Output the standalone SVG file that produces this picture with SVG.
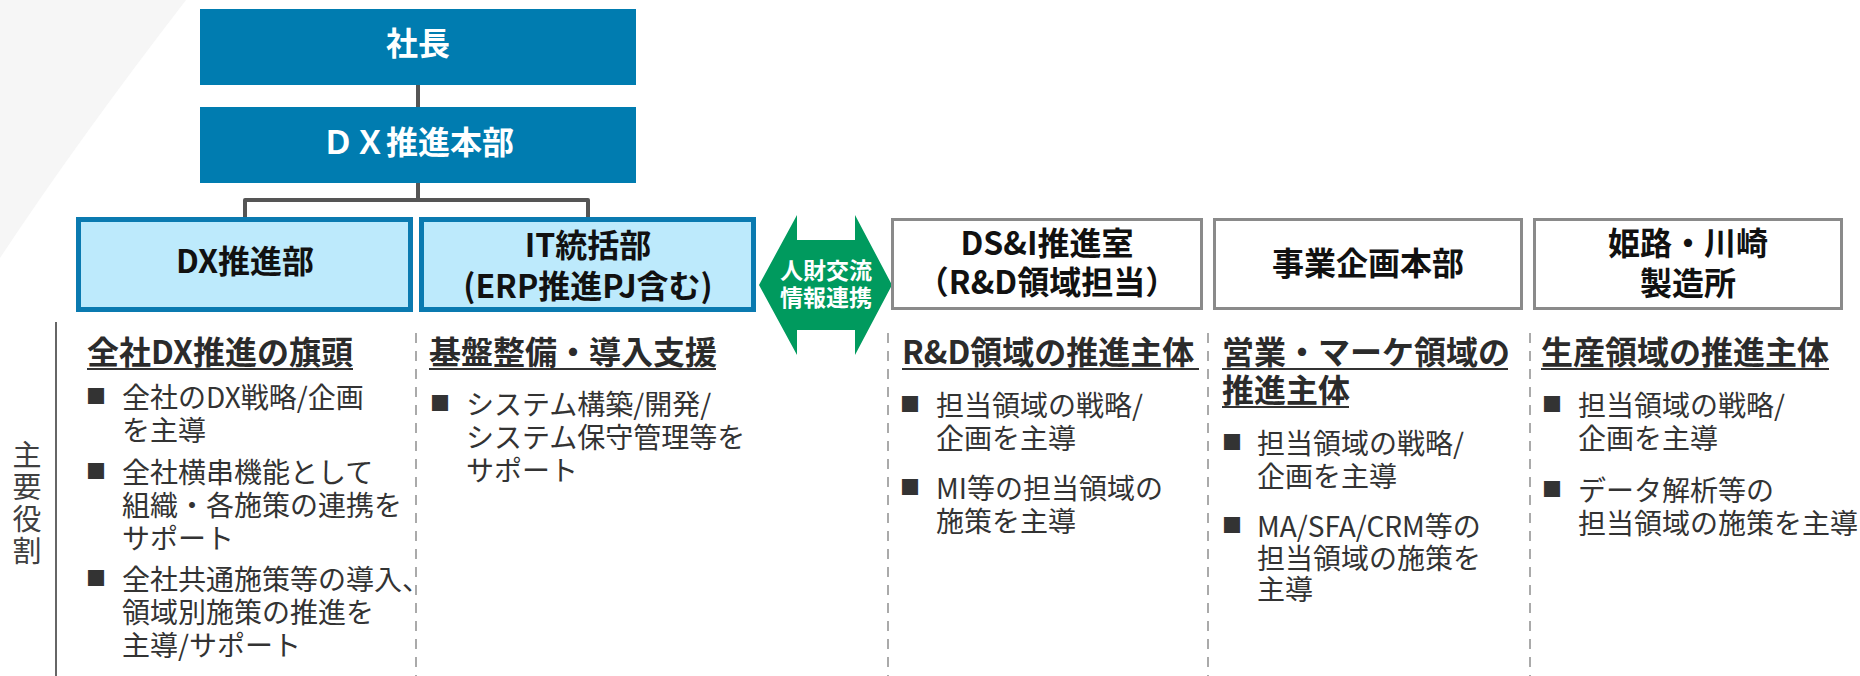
<svg xmlns="http://www.w3.org/2000/svg" width="1860" height="676" viewBox="0 0 1860 676">
<style>
text{font-family:"Noto Sans CJK JP","Noto Sans",sans-serif}
.top{fill:#007cb0}
.topt{fill:#fff;font-size:32px;font-weight:bold;text-anchor:middle}
.blue{fill:#bdeafc;stroke:#0a7ab0;stroke-width:5}
.white{fill:#fff;stroke:#8a8a8a;stroke-width:3}
.bt{fill:#111;font-size:32px;font-weight:bold;text-anchor:middle}
.conn{fill:none;stroke:#555;stroke-width:4;stroke-linejoin:round}
.dash{stroke:#aaa;stroke-width:2;stroke-dasharray:10 8}
.hd{fill:#2b2b2b;font-size:32px;font-weight:bold}
.ul{stroke:#333;stroke-width:2}
.bd{fill:#333;font-size:28px}
.bl{fill:#333;font-size:20px}
.arw{fill:#009a5e}
.arwt{fill:#fff;font-size:23px;font-weight:bold;text-anchor:middle}
</style>
<path d="M0,0 L186,0 Q78,140 0,258 Z" fill="#f6f6f6"/>
<g id="connectors">
<path class="conn" d="M418,85 V107"/>
<path class="conn" d="M418,183 V200 M245,217 V200 H588 V217"/>
</g>
<g id="president">
<rect class="top" x="200" y="9" width="436" height="76"/>
<text class="topt" x="418" y="55">社長</text>
</g>
<g id="dx-hq">
<rect class="top" x="200" y="107" width="436" height="76"/>
<text class="topt" x="418" y="154">ＤＸ推進本部</text>
</g>
<g id="dx-dept">
<rect class="blue" x="78.5" y="219.5" width="332" height="90"/>
<text class="bt" x="245" y="273">DX推進部</text>
</g>
<g id="it-dept">
<rect class="blue" x="421.5" y="219.5" width="332" height="90"/>
<text class="bt" x="588" y="257">IT統括部</text>
<text class="bt" x="588" y="298">(ERP推進PJ含む)</text>
</g>
<g id="exchange">
<polygon class="arw" points="797,215 797,240 855,240 855,215 892,285 855,355 855,330 797,330 797,355 759,285"/>
<text class="arwt" x="826" y="279">人財交流</text>
<text class="arwt" x="826" y="306">情報連携</text>
</g>
<g id="dsi">
<rect class="white" x="892.5" y="219.5" width="309" height="89"/>
<text class="bt" x="1047" y="255">DS&amp;I推進室</text>
<text class="bt" x="1047" y="294">（R&amp;D領域担当）</text>
</g>
<g id="biz-planning">
<rect class="white" x="1214.5" y="219.5" width="307" height="89"/>
<text class="bt" x="1368" y="275">事業企画本部</text>
</g>
<g id="himeji">
<rect class="white" x="1534.5" y="219.5" width="307" height="89"/>
<text class="bt" x="1688" y="255">姫路・川崎</text>
<text class="bt" x="1688" y="295">製造所</text>
</g>
<g id="role-label">
<line x1="56" y1="322" x2="56" y2="676" stroke="#666" stroke-width="2"/>
<text fill="#404040" font-size="29" writing-mode="vertical-rl" letter-spacing="3" x="27" y="440">主要役割</text>
</g>
<g id="dividers">
<line class="dash" x1="416" y1="333" x2="416" y2="676"/>
<line class="dash" x1="888" y1="333" x2="888" y2="676"/>
<line class="dash" x1="1208" y1="333" x2="1208" y2="676"/>
<line class="dash" x1="1530" y1="333" x2="1530" y2="676"/>
</g>
<g id="col-dx">
<text class="hd" x="87" y="364">全社DX推進の旗頭</text>
<line class="ul" x1="87" y1="369" x2="353" y2="369"/>
<text class="bl" x="86" y="404">■</text>
<text class="bd"><tspan x="122" y="408">全社のDX戦略/企画</tspan><tspan x="122" y="441">を主導</tspan></text>
<text class="bl" x="86" y="479">■</text>
<text class="bd"><tspan x="122" y="483">全社横串機能として</tspan><tspan x="122" y="516">組織・各施策の連携を</tspan><tspan x="122" y="549">サポート</tspan></text>
<text class="bl" x="86" y="586">■</text>
<text class="bd"><tspan x="122" y="590">全社共通施策等の導入、</tspan><tspan x="122" y="623">領域別施策の推進を</tspan><tspan x="122" y="656">主導/サポート</tspan></text>
</g>
<g id="col-it">
<text class="hd" x="429" y="364">基盤整備・導入支援</text>
<line class="ul" x1="429" y1="369" x2="716" y2="369"/>
<text class="bl" x="430" y="411">■</text>
<text class="bd"><tspan x="466" y="415">システム構築/開発/</tspan><tspan x="466" y="448">システム保守管理等を</tspan><tspan x="466" y="481">サポート</tspan></text>
</g>
<g id="col-dsi">
<text class="hd" x="902" y="364">R&amp;D領域の推進主体</text>
<line class="ul" x1="902" y1="369" x2="1199" y2="369"/>
<text class="bl" x="900" y="412">■</text>
<text class="bd"><tspan x="936" y="416">担当領域の戦略/</tspan><tspan x="936" y="449">企画を主導</tspan></text>
<text class="bl" x="900" y="495">■</text>
<text class="bd"><tspan x="936" y="499">MI等の担当領域の</tspan><tspan x="936" y="532">施策を主導</tspan></text>
</g>
<g id="col-biz">
<text class="hd" x="1222" y="364">営業・マーケ領域の</text>
<line class="ul" x1="1222" y1="369" x2="1508" y2="369"/>
<text class="hd" x="1222" y="402">推進主体</text>
<line class="ul" x1="1222" y1="407" x2="1349" y2="407"/>
<text class="bl" x="1222" y="450">■</text>
<text class="bd"><tspan x="1257" y="454">担当領域の戦略/</tspan><tspan x="1257" y="487">企画を主導</tspan></text>
<text class="bl" x="1222" y="533">■</text>
<text class="bd"><tspan x="1257" y="537">MA/SFA/CRM等の</tspan><tspan x="1257" y="569">担当領域の施策を</tspan><tspan x="1257" y="600">主導</tspan></text>
</g>
<g id="col-himeji">
<text class="hd" x="1541" y="364">生産領域の推進主体</text>
<line class="ul" x1="1541" y1="369" x2="1829" y2="369"/>
<text class="bl" x="1542" y="412">■</text>
<text class="bd"><tspan x="1578" y="416">担当領域の戦略/</tspan><tspan x="1578" y="449">企画を主導</tspan></text>
<text class="bl" x="1542" y="497">■</text>
<text class="bd"><tspan x="1578" y="501">データ解析等の</tspan><tspan x="1578" y="534">担当領域の施策を主導</tspan></text>
</g>
</svg>
